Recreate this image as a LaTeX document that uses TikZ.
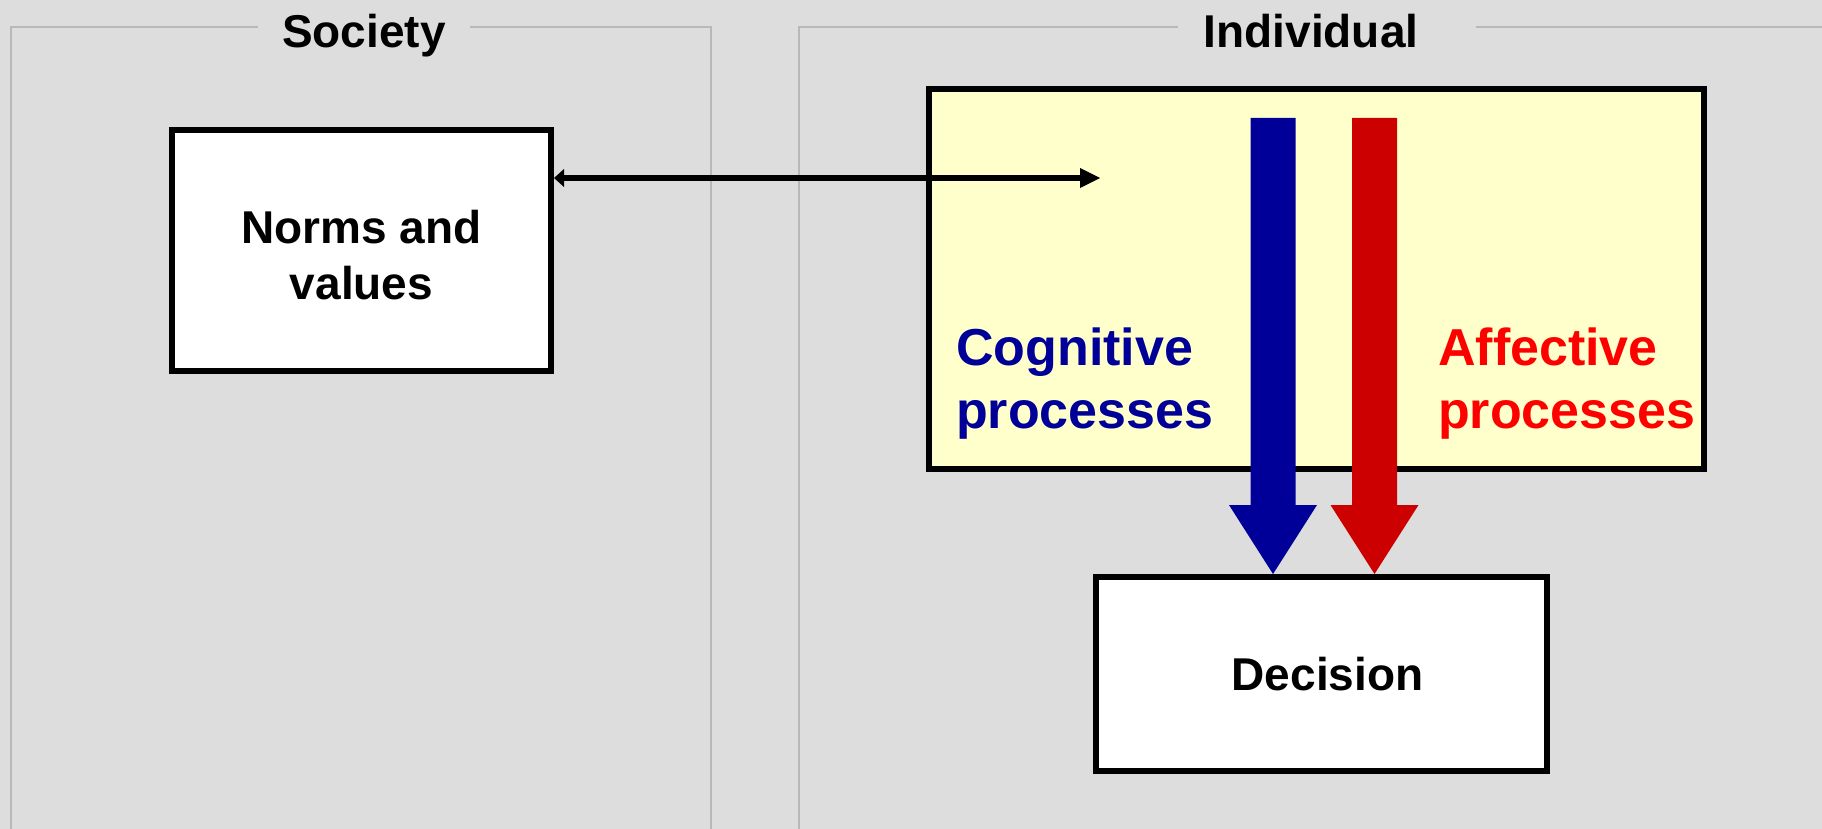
\documentclass[tikz,border=0pt]{standalone}
\usepackage{fontspec}
\setmainfont{Liberation Sans}
\usetikzlibrary{arrows.meta,calc}
\definecolor{bg}{HTML}{DDDDDD}
\definecolor{framegray}{HTML}{B8B8B8}
\definecolor{procyellow}{HTML}{FFFFCC}
\definecolor{cogblue}{HTML}{000099}
\definecolor{affred}{HTML}{CC0000}
\definecolor{afftext}{HTML}{FF0000}

\begin{document}
\begin{tikzpicture}[x=1pt,y=-1pt,
  frameline/.style={draw=framegray,line width=2pt},
  title/.style={font=\fontsize{46}{56}\selectfont\bfseries,anchor=base,inner sep=0pt},
  box/.style={draw=black,line width=6pt,fill=white,align=center,
    font=\fontsize{46}{56}\selectfont\bfseries,inner sep=0pt},
  proclabel/.style={font=\fontsize{52}{63}\selectfont\bfseries,align=left,
    anchor=base west,inner sep=0pt},
  twoway/.style={line width=5.5pt,
    {Triangle[length=10pt,width=18pt,line width=0pt]}-{Triangle[length=20pt,width=20pt,line width=0pt]}},
]
% canvas
\useasboundingbox (0,0) rectangle (1822,829);
\fill[bg] (0,0) rectangle (1822,829);

% open frames with their titles
\draw[frameline] (258,27) -- (10.5,27) -- (10.5,829);
\draw[frameline] (469.5,27) -- (710.5,27) -- (710.5,829);
\draw[frameline] (1177.5,27) -- (799,27) -- (799,829);
\draw[frameline] (1476,27) -- (1822,27);
\node[title] (society) at (364,48) {Society};
\node[title] (individual) at (1311,48) {Individual};

% boxes (an empty leading row lowers the two-line label a little)
\node[box,minimum width=379pt,minimum height=241pt] (norms) at (361.5,250.5)
  {\mbox{}\\[-14pt]Norms and\\values};
\node[draw=black,line width=6pt,fill=procyellow,minimum width=775pt,minimum height=380pt,inner sep=0pt] (proc) at (1316.5,279) {};
% the base anchor of a two-line label sits on its last line
\node[proclabel,text=cogblue] (cog) at (956,428) {Cognitive\\processes};
\node[proclabel,text=afftext] (aff) at (1438,428) {Affective\\processes};

% link between society and the individual
\coordinate (linkend) at (1100,178);
\draw[twoway] (norms.east |- linkend) -- (linkend);

\node[box,minimum width=451pt,minimum height=194pt] (dec) at (1321.5,674) {\hspace*{12pt}Decision};

% broad arrows into the decision
\coordinate (cogtop) at (1273,118);
\coordinate (afftop) at (1374.5,118);
\coordinate (cogtip) at (dec.north -| cogtop);
\coordinate (afftip) at (dec.north -| afftop);
\fill[cogblue] ($(cogtop)+(-22.5,0)$) -- ($(cogtip)+(-22.5,-69)$) -- ($(cogtip)+(-44,-69)$)
  -- (cogtip) -- ($(cogtip)+(44,-69)$) -- ($(cogtip)+(22.5,-69)$) -- ($(cogtop)+(22.5,0)$) -- cycle;
\fill[affred] ($(afftop)+(-22.5,0)$) -- ($(afftip)+(-22.5,-69)$) -- ($(afftip)+(-44,-69)$)
  -- (afftip) -- ($(afftip)+(44,-69)$) -- ($(afftip)+(22.5,-69)$) -- ($(afftop)+(22.5,0)$) -- cycle;
\end{tikzpicture}
\end{document}
